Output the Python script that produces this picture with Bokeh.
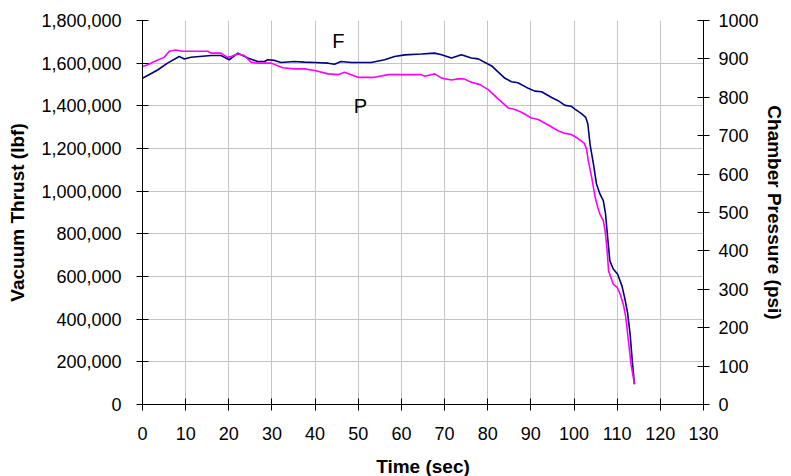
from bokeh.plotting import figure
from bokeh.models import Range1d, LinearAxis, SingleIntervalTicker, NumeralTickFormatter, Label
from bokeh.embed import file_html
from bokeh.resources import INLINE

# ---- data ----
thrust_time = [0, 3.5, 5.8, 8.5, 9.7, 11.2, 15.9, 18.2, 20.1, 22.1, 24.4, 26.7, 28.3, 29, 30.6,
               32.1, 35.2, 37.5, 39.9, 43, 44.5, 46, 48.4, 53, 56.1, 58.4, 60.8, 64.6, 67.7,
               69.3, 71.6, 73.9, 76.2, 77.8, 80.9, 84, 85.5, 87, 89.4, 90.9, 92.5, 94.8, 96.3,
               97.9, 99.4, 100.2, 101.8, 102.7, 103.2, 103.7, 104.5, 105.2, 106, 106.8, 107.3,
               107.8, 108.3, 109.1, 110.1, 111.1, 111.8, 112.4, 113, 113.5, 114]
thrust_lbf = [1529000, 1568000, 1600000, 1631000, 1620000, 1628000, 1636000, 1636000, 1616000,
              1647000, 1624000, 1608000, 1608000, 1616000, 1613000, 1603000, 1608000, 1605000,
              1603000, 1600000, 1595000, 1608000, 1603000, 1603000, 1616000, 1631000, 1639000,
              1643000, 1647000, 1639000, 1624000, 1639000, 1624000, 1620000, 1587000, 1529000,
              1513000, 1508000, 1482000, 1469000, 1466000, 1439000, 1424000, 1402000, 1398000,
              1385000, 1362000, 1346000, 1315000, 1221000, 1127000, 1034000, 987000, 955000,
              893000, 780000, 673000, 635000, 611000, 556000, 494000, 431000, 329000, 204000,
              95000]

pressure_time = [0, 1.2, 3.5, 5, 6.2, 7.7, 9.3, 15.1, 15.9, 18.2, 19.7, 20.5, 22.1, 23.6, 25.2,
                 26.7, 29.8, 32.5, 35.2, 37.5, 39.9, 43, 45.3, 46.8, 49.9, 53.8, 56.9, 64.6,
                 65.4, 66.1, 67.7, 69.3, 71.6, 73.1, 74.5, 76.2, 78.2, 80.1, 82.4, 84.8, 86.3,
                 87.8, 90.1, 91.7, 94, 96.3, 97.9, 99.4, 101, 102.4, 102.9, 103.3, 104.1, 104.9,
                 105.5, 106, 106.8, 107.2, 107.6, 108, 109.1, 110, 110.7, 111.5, 112, 112.6,
                 113.2, 114]
pressure_psi = [880, 885, 897, 904, 920, 923, 920, 920, 915, 915, 904, 906, 913, 909, 891, 889,
                889, 877, 874, 874, 870, 861, 859, 865, 852, 852, 859, 859, 855, 857, 861, 850,
                845, 848, 848, 839, 833, 820, 796, 772, 768, 761, 746, 742, 728, 713, 706, 703,
                692, 680, 665, 635, 591, 539, 513, 496, 478, 452, 410, 348, 313, 305, 287, 257,
                226, 166, 105, 53]

x_title = "Time (sec)"
left_title = "Vacuum Thrust (lbf)"
right_title = "Chamber Pressure (psi)"
series_labels = ["F", "P"]
label_pos_time = [45.4, 50.5]
label_pos_thrust = [1706000, 1401000]

FONT = "Liberation Sans"

p = figure(frame_width=561, frame_height=384,
           x_range=Range1d(0, 130), y_range=Range1d(0, 1800000),
           output_backend="svg", toolbar_location=None,
           min_border_left=142, min_border_top=20, min_border_right=80, min_border_bottom=72,
           background_fill_color="white", border_fill_color="white")
p.outline_line_color = None
p.extra_y_ranges = {"psi": Range1d(0, 1000)}

xt = SingleIntervalTicker(interval=10, num_minor_ticks=0)
yt = SingleIntervalTicker(interval=200000, num_minor_ticks=0)
rt = SingleIntervalTicker(interval=100, num_minor_ticks=0)

p.xaxis.ticker = xt
p.yaxis.ticker = yt
p.yaxis.formatter = NumeralTickFormatter(format="0,0")
p.xgrid.ticker = xt
p.ygrid.ticker = yt
for g in (p.xgrid, p.ygrid):
    g.grid_line_color = "#c4c4c4"
    g.grid_line_width = 1

raxis = LinearAxis(y_range_name="psi", ticker=rt, formatter=NumeralTickFormatter(format="0"))
p.add_layout(raxis, "right")

p.xaxis.axis_label = x_title
p.yaxis.axis_label = left_title
raxis.axis_label = right_title

for ax, st, lst in ((p.xaxis[0], 16, 13), (p.yaxis[0], 15, 10), (raxis, 9, 2)):
    ax.axis_line_color = "black"
    ax.axis_line_width = 1
    ax.major_tick_line_color = "black"
    ax.major_tick_in = 6
    ax.major_tick_out = 6
    ax.minor_tick_line_color = None
    ax.major_label_text_font = FONT
    ax.major_label_text_font_size = "18px"
    ax.major_label_text_color = "black"
    ax.major_label_standoff = st
    ax.axis_label_text_font = FONT
    ax.axis_label_text_font_size = "19px"
    ax.axis_label_text_font_style = "bold"
    ax.axis_label_text_color = "black"
    ax.axis_label_standoff = lst

p.line(thrust_time, thrust_lbf, line_color="#000080", line_width=1.6)
p.line(pressure_time, pressure_psi, line_color="#FF00FF", line_width=1.6, y_range_name="psi")

for txt, lx, ly in zip(series_labels, label_pos_time, label_pos_thrust):
    p.add_layout(Label(x=lx, y=ly, text=txt, text_align="center", text_baseline="middle",
                       text_font=FONT, text_font_size="20px", text_color="black"))

open("out.html", "w").write(file_html(p, INLINE))
